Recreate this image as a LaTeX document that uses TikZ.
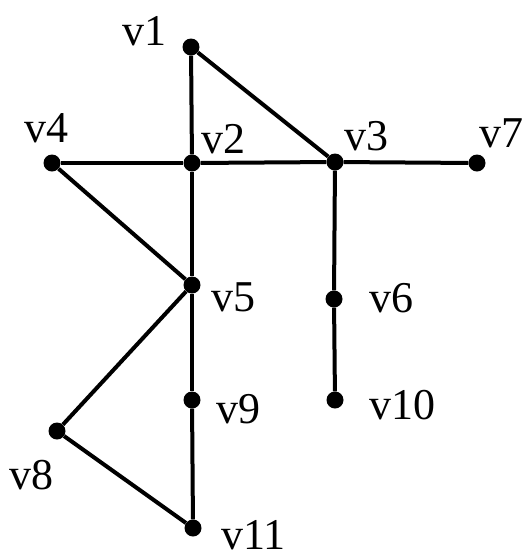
\documentclass[tikz,border=0pt]{standalone}
\usepackage{fontspec}
\setmainfont{Liberation Serif}
\newfontfamily\lblfont{Liberation Serif}
\begin{document}
\begin{tikzpicture}[x=1pt,y=-1pt,
  vtx/.style={circle,fill=black,inner sep=0pt,minimum size=17pt},
  lbl/.style={anchor=base west,inner sep=0pt,font=\lblfont\fontsize{44}{44}\selectfont},
  edge/.style={line width=4pt}]
\useasboundingbox (0,0) rectangle (529,558);
\node[vtx] (v1) at (191,47) {};
\node[vtx] (v2) at (192,163) {};
\node[vtx] (v3) at (335,162) {};
\node[vtx] (v4) at (52,163) {};
\node[vtx] (v7) at (477,163) {};
\node[vtx] (v5) at (192,285) {};
\node[vtx] (v6) at (334,299) {};
\node[vtx] (v9) at (192,400) {};
\node[vtx] (v10) at (335,400) {};
\node[vtx] (v8) at (57,431) {};
\node[vtx] (v11) at (193,528) {};
\draw[edge] (v1) -- (v2);
\draw[edge] (v1) -- (v3);
\draw[edge] (v4) -- (v2);
\draw[edge] (v2) -- (v3);
\draw[edge] (v3) -- (v7);
\draw[edge] (v2) -- (v5);
\draw[edge] (v4) -- (v5);
\draw[edge] (v3) -- (v6);
\draw[edge] (v6) -- (v10);
\draw[edge] (v5) -- (v9);
\draw[edge] (v9) -- (v11);
\draw[edge] (v5) -- (v8);
\draw[edge] (v8) -- (v11);
\node[lbl] (l1) at (122,45) {v1};
\node[lbl] (l2) at (201,153) {v2};
\node[lbl] (l3) at (344,150) {v3};
\node[lbl] (l4) at (24,142) {v4};
\node[lbl] (l7) at (479,147) {v7};
\node[lbl] (l5) at (211,311) {v5};
\node[lbl] (l6) at (369,312) {v6};
\node[lbl] (l9) at (216,423) {v9};
\node[lbl] (l10) at (369,419) {v10};
\node[lbl] (l8) at (9,489) {v8};
\node[lbl] (l11) at (221,549) {v11};
\end{tikzpicture}
\end{document}
